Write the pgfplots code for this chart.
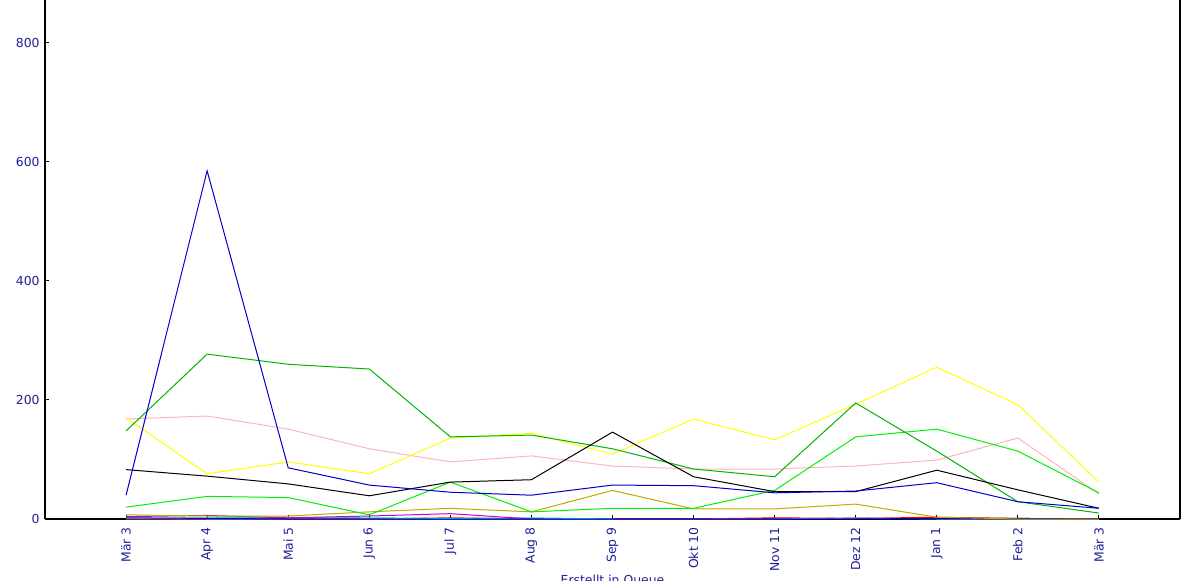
\documentclass[border=0pt]{standalone}
\usepackage{pgfplots}
\pgfplotsset{compat=1.18}
\usepackage{fontspec}
\setmainfont{DejaVu Sans}

\definecolor{lblue}{RGB}{32,32,150}
\definecolor{sblue}{RGB}{0,0,200}
\definecolor{dgreen}{RGB}{0,180,0}
\definecolor{bgreen}{RGB}{0,240,0}
\definecolor{syellow}{RGB}{255,255,0}
\definecolor{spink}{RGB}{255,180,190}
\definecolor{solive}{RGB}{190,170,0}
\definecolor{smag}{RGB}{200,0,200}
\definecolor{scyan}{RGB}{0,225,225}
\definecolor{sred}{RGB}{255,0,0}
\definecolor{sgray}{RGB}{110,130,210}

\begin{document}
\begin{tikzpicture}
\path[use as bounding box, clip] (-22.5pt,-30.5pt) rectangle (577.5pt,259.5pt);
\begin{axis}[
    at={(0,0)}, anchor=south west,
    scale only axis,
    width=567.5pt, height=259.5pt,
    xmin=-1, xmax=13,
    ymin=0, ymax=872,
    axis x line*=bottom,
    axis y line*=box,
    ytick pos=left,
    axis line style={line width=0.6pt, -},
    tick align=inside,
    major tick length=2pt,
    tick style={black, line width=0.5pt},
    xtick={0,...,12},
    xticklabels={Mär 3,Apr 4,Mai 5,Jun 6,Jul 7,Aug 8,Sep 9,Okt 10,Nov 11,Dez 12,Jan 1,Feb 2,Mär 3},
    ytick={0,200,400,600,800},
    /pgf/number format/assume math mode=true,
    ticklabel style={font=\fontsize{6.2}{7}\selectfont, text=lblue},
    x tick label style={rotate=90, anchor=east, inner sep=0pt, xshift=-4pt},
    y tick label style={anchor=east, inner sep=0pt, xshift=-2.5pt},
    xlabel={Erstellt in Queue},
    xlabel style={at={(axis description cs:0.5,0)}, anchor=north, inner sep=0pt,
        yshift=-28pt, font=\fontsize{6.2}{7}\selectfont, text=lblue},
    every axis plot/.append style={line width=0.5pt, mark=none},
]
% small series near zero
\addplot[sred] coordinates {(0,0)(1,0)(2,1)(3,0)(4,2)(5,0)(6,0)(7,0)(8,2)(9,1)(10,3)(11,1)(12,0)};
\addplot[sgray] coordinates {(0,1)(1,0)(2,0)(3,0)(4,0)(5,0)(6,0)(7,0)(8,0)(9,2)(10,0)(11,0)(12,0)};
\addplot[scyan] coordinates {(0,1)(1,2)(2,3)(3,2)(4,1)(5,2)(6,0)};
\addplot[smag] coordinates {(0,4)(1,6)(2,2)(3,5)(4,9)(5,0)};
\addplot[sblue] coordinates {(0,2)(1,1)(2,0)(3,0)(4,0)(5,0)(6,0)(7,0)(8,0)(9,0)(10,1)(11,1)(12,0)};
\addplot[solive] coordinates {(0,7)(1,5)(2,5)(3,12)(4,18)(5,12)(6,48)(7,17)(8,17)(9,25)(10,3)(11,0)(12,0)};
% larger series
\addplot[spink] coordinates {(0,168)(1,173)(2,151)(3,118)(4,96)(5,106)(6,89)(7,84)(8,84)(9,89)(10,99)(11,136)(12,42)};
\addplot[syellow] coordinates {(0,170)(1,76)(2,96)(3,76)(4,136)(5,144)(6,109)(7,168)(8,133)(9,193)(10,255)(11,192)(12,62)};
\addplot[bgreen] coordinates {(0,20)(1,38)(2,36)(3,7)(4,62)(5,12)(6,18)(7,18)(8,48)(9,138)(10,151)(11,114)(12,44)};
\addplot[dgreen] coordinates {(0,148)(1,277)(2,260)(3,252)(4,138)(5,141)(6,118)(7,84)(8,71)(9,195)(10,114)(11,29)(12,10)};
\addplot[black] coordinates {(0,83)(1,72)(2,59)(3,39)(4,62)(5,66)(6,146)(7,71)(8,46)(9,46)(10,82)(11,49)(12,18)};
\addplot[sblue] coordinates {(0,40)(1,585)(2,86)(3,57)(4,45)(5,40)(6,57)(7,56)(8,44)(9,47)(10,61)(11,29)(12,18)};
\end{axis}
\end{tikzpicture}
\end{document}
